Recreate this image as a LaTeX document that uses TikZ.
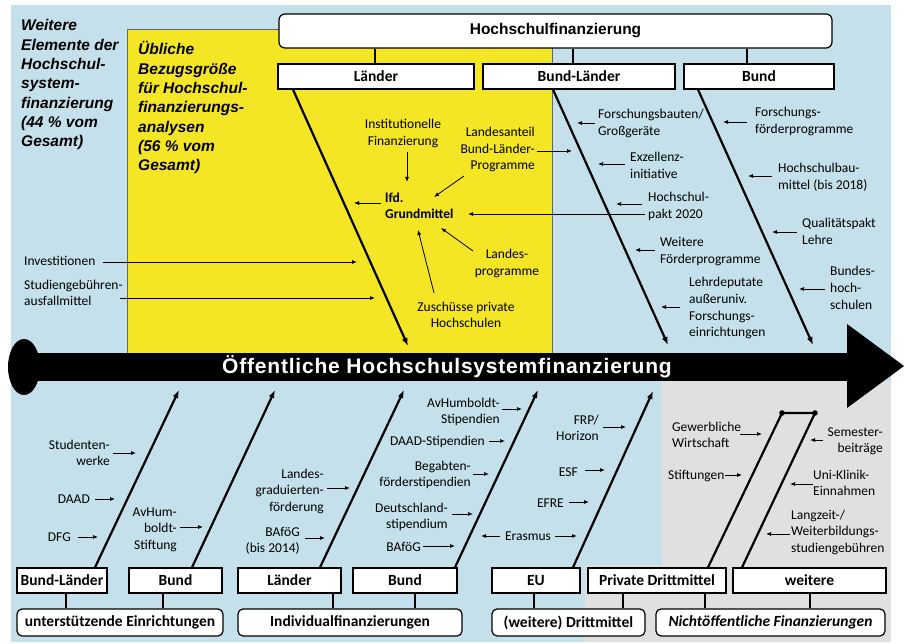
\documentclass[tikz,border=0pt]{standalone}
\usepackage{fontspec}
\setmainfont{Carlito}
\newfontfamily\arialf{Liberation Sans}
\newfontfamily\arialsp[LetterSpace=3.8]{Liberation Sans}
\usetikzlibrary{arrows.meta}
\definecolor{bgblue}{HTML}{C4E0EA}
\definecolor{ylw}{HTML}{F4E525}
\definecolor{gry}{HTML}{E0E0E0}
\begin{document}
\begin{tikzpicture}[x=1pt,y=-1pt,
  lbl/.style={font=\fontsize{13.5}{16.5}\selectfont, inner sep=0pt},
  sa/.style={-{Latex[length=5pt,width=4pt]}, line width=0.8pt},
  bone/.style={line width=2.2pt, -{Latex[length=8pt,width=6pt]}},
  pbone/.style={line width=2.2pt},
  conn/.style={line width=1.2pt},
  box/.style={draw, line width=1.2pt, fill=white, inner sep=0pt, minimum height=25pt, font=\fontsize{15.5}{18}\selectfont\bfseries},
  rbox/.style={box, rounded corners=5pt, minimum height=27pt},
  big/.style={font=\arialf\fontsize{15.5}{19.3}\selectfont\bfseries\itshape, inner sep=0pt, align=left, anchor=base west}
]
\useasboundingbox (0,0) rectangle (905,644);
% backgrounds
\fill[bgblue] (11,5) rectangle (891,642);
\fill[gry] (662,381) -- (891,381) -- (891,642) -- (585,642) -- (585,565) -- (662,565) -- cycle;
\filldraw[fill=ylw, draw=gray!80!black, line width=0.6pt] (127,29) rectangle (552,353);

% main arrow
\fill[black] (24,367) ellipse [x radius=16pt, y radius=28pt];
\fill[black] (24,353) rectangle (848,381);
\fill[black] (847,324) -- (904,366) -- (847,408) -- cycle;
\node[text=white, font=\arialsp\fontsize{21}{24}\selectfont\bfseries, anchor=base, inner sep=0pt] (title) at (447,373) {Öffentliche Hochschulsystemfinanzierung};

% side texts (anchor = baseline of last line)
\node[big] (weit) at (21,146.8) {Weitere\\Elemente der\\Hochschul-\\system-\\finanzierung\\(44 \% vom\\Gesamt)};
\node[big] (ubl) at (138,170.8) {Übliche\\Bezugsgröße\\für Hochschul-\\finanzierungs-\\analysen\\(56 \% vom\\Gesamt)};

% top boxes
\node[box, rounded corners=6pt, minimum width=553pt, minimum height=34pt, font=\arialf\fontsize{15.5}{18}\selectfont\bfseries] (HF) at (555.5,31) {Hochschulfinanzierung};
\node[box, minimum width=196pt] (L) at (376,76.5) {Länder};
\node[box, minimum width=192pt] (BL) at (579,76.5) {Bund-Länder};
\node[box, minimum width=150pt] (B) at (759,76.5) {Bund};
\draw[conn] (HF.south -| 375,0) -- (L.north -| 375,0);
\draw[conn] (HF.south -| 573,0) -- (BL.north -| 573,0);
\draw[conn] (HF.south -| 747,0) -- (B.north -| 747,0);

% top bones
\draw[bone] (L.south -| 293,0) -- (408,346);
\draw[bone] (BL.south -| 553,0) -- (668,345);
\draw[bone] (B.south -| 698,0) -- (813,345);

% yellow labels
\node[lbl, align=center, anchor=base] (inst) at (403,145.5) {Institutionelle\\Finanzierung};
\node[lbl, align=right, anchor=base east] (lanteil) at (535,170) {Landesanteil\\Bund-Länder-\\Programme};
\node[lbl, align=left, anchor=base west, font=\fontsize{13.5}{16}\selectfont\bfseries] (grund) at (385,219) {lfd.\\Grundmittel};
\node[lbl, align=center, anchor=base] (lprog) at (507,275.5) {Landes-\\programme};
\node[lbl, align=center, anchor=base] (zusch) at (466,327.5) {Zuschüsse private\\Hochschulen};
\node[lbl, anchor=base west] (inv) at (24,266) {Investitionen};
\node[lbl, align=left, anchor=base west] (stud) at (24,305.5) {Studiengebühren-\\ausfallmittel};

\draw[sa] (407,152) -- (407,182);
\draw[sa] (464,176) -- (434,197);
\draw[sa] (381,203) -- (354,203);
\draw[sa] (537,151) -- (572,151);
\draw[sa] (473,251) -- (441,228);
\draw[sa] (434,293) -- (418,230);
\draw[sa] (103,262) -- (357,262);
\draw[sa] (120,298) -- (375,298);
\draw[sa] (645,214) -- (468,214);

% right labels
\node[lbl, align=left, anchor=base west] (fb) at (598,135.5) {Forschungsbauten/\\Großgeräte};
\node[lbl, align=left, anchor=base west] (ex) at (630,178.5) {Exzellenz-\\initiative};
\node[lbl, align=left, anchor=base west] (hp) at (648,218.5) {Hochschul-\\pakt 2020};
\node[lbl, align=left, anchor=base west] (wf) at (660,263.5) {Weitere\\Förderprogramme};
\node[lbl, align=left, anchor=base west] (ld) at (689,336.5) {Lehrdeputate\\außeruniv.\\Forschungs-\\einrichtungen};
\node[lbl, align=left, anchor=base west] (ff) at (755,133.5) {Forschungs-\\förderprogramme};
\node[lbl, align=left, anchor=base west] (hb) at (778,189.5) {Hochschulbau-\\mittel (bis 2018)};
\node[lbl, align=left, anchor=base west] (qp) at (802,244.5) {Qualitätspakt\\Lehre};
\node[lbl, align=left, anchor=base west] (bh) at (830,309) {Bundes-\\hoch-\\schulen};

\draw[sa] (595,123) -- (577,123);
\draw[sa] (625,164) -- (598,164);
\draw[sa] (642,204) -- (616,204);
\draw[sa] (655,250) -- (635,250);
\draw[sa] (680,307) -- (661,307);
\draw[sa] (747,122) -- (723,122);
\draw[sa] (772,176) -- (748,176);
\draw[sa] (797,232) -- (772,232);
\draw[sa] (825,289) -- (799,289);

% bottom boxes
\node[box, minimum width=90pt] (BLb) at (62,580.5) {Bund-Länder};
\node[box, minimum width=93pt] (Bb1) at (175.5,580.5) {Bund};
\node[box, minimum width=103pt] (Lb) at (289.5,580.5) {Länder};
\node[box, minimum width=104pt] (Bb2) at (405,580.5) {Bund};
\node[box, minimum width=88pt] (EU) at (536,580.5) {EU};
\node[box, minimum width=138pt] (PD) at (657,580.5) {Private Drittmittel};
\node[box, minimum width=153pt] (W) at (809.5,580.5) {weitere};

\node[rbox, minimum width=206pt] (UE) at (120,622.5) {unterstützende Einrichtungen};
\node[rbox, minimum width=224pt] (IF) at (350,622.5) {Individualfinanzierungen};
\node[rbox, minimum width=153pt] (WD) at (568.5,622.5) {(weitere) Drittmittel};
\node[rbox, minimum width=229pt, font=\fontsize{15.5}{18}\selectfont\bfseries\itshape] (NF) at (770.5,622.5) {Nichtöffentliche Finanzierungen};

\draw[conn] (BLb.south -| 66,0) -- (UE.north -| 66,0);
\draw[conn] (Bb1.south -| 163,0) -- (UE.north -| 163,0);
\draw[conn] (Lb.south -| 333,0) -- (IF.north -| 333,0);
\draw[conn] (Bb2.south -| 415,0) -- (IF.north -| 415,0);
\draw[conn] (EU.south -| 534,0) -- (WD.north -| 534,0);
\draw[conn] (PD.south -| 623,0) -- (WD.north -| 623,0);
\draw[conn] (PD.south -| 705,0) -- (NF.north -| 705,0);
\draw[conn] (W.south -| 810,0) -- (NF.north -| 810,0);

% bottom bones
\draw[bone] (BLb.north -| 95,0) -- (179,390);
\draw[bone] (Bb1.north -| 192,0) -- (275,390);
\draw[bone] (Lb.north -| 320,0) -- (404,390);
\draw[bone] (Bb2.north -| 455,0) -- (538,390);
\draw[bone] (EU.north -| 573,0) -- (653,391);
\coordinate (d1) at (782,413);
\coordinate (d2) at (815,413);
\draw[pbone] (PD.north -| 708,0) -- (d1) -- (d2) -- (W.north -| 742,0);
\fill (d1) circle (2.8pt);
\fill (d2) circle (2.8pt);

% bottom labels
\node[lbl, align=right, anchor=base east] at (110,465.5) {Studenten-\\werke};
\node[lbl, anchor=base east] at (90,503) {DAAD};
\node[lbl, anchor=base east] at (71,541) {DFG};
\node[lbl, align=right, anchor=base east] at (177,549) {AvHum-\\boldt-\\Stiftung};
\node[lbl, align=right, anchor=base east] at (324,511) {Landes-\\graduierten-\\förderung};
\node[lbl, align=right, anchor=base east] at (300,552.5) {BAföG\\(bis 2014)};
\node[lbl, align=right, anchor=base east] at (500,423.5) {AvHumboldt-\\Stipendien};
\node[lbl, anchor=base east] at (485,445) {DAAD-Stipendien};
\node[lbl, align=right, anchor=base east] at (471,486.5) {Begabten-\\förderstipendien};
\node[lbl, align=right, anchor=base east] at (448,528.5) {Deutschland-\\stipendium};
\node[lbl, anchor=base east] at (421,551) {BAföG};
\node[lbl, align=right, anchor=base east] at (599,440.5) {FRP/\\Horizon};
\node[lbl, anchor=base east] at (578,476) {ESF};
\node[lbl, anchor=base east] at (564,507) {EFRE};
\node[lbl, anchor=base] at (528,540) {Erasmus};
\node[lbl, align=left, anchor=base west] at (672,447.5) {Gewerbliche\\Wirtschaft};
\node[lbl, anchor=base west] at (668,479) {Stiftungen};
\node[lbl, align=right, anchor=base east] at (883,452.5) {Semester-\\beiträge};
\node[lbl, align=left, anchor=base west] at (813,495.5) {Uni-Klinik-\\Einnahmen};
\node[lbl, align=left, anchor=base west] at (791,552) {Langzeit-/\\Weiterbildungs-\\studiengebühren};

\draw[sa] (113,453) -- (136,453);
\draw[sa] (95,499) -- (115,499);
\draw[sa] (78,537) -- (98,537);
\draw[sa] (180,527) -- (203,527);
\draw[sa] (327,488) -- (350,488);
\draw[sa] (305,538) -- (325,538);
\draw[sa] (502,409) -- (522,409);
\draw[sa] (489,441) -- (505,441);
\draw[sa] (473,474) -- (489,474);
\draw[sa] (452,514) -- (473,514);
\draw[sa] (423,546) -- (455,546);
\draw[sa] (603,427) -- (626,427);
\draw[sa] (585,470) -- (605,470);
\draw[sa] (569,502) -- (589,502);
\draw[sa] (500,536) -- (481,536);
\draw[sa] (555,536) -- (577,536);
\draw[sa] (740,434) -- (762,434);
\draw[sa] (725,475) -- (742,475);
\draw[sa] (823,440) -- (810,440);
\draw[sa] (813,484) -- (790,484);
\draw[sa] (790,534) -- (766,534);
\end{tikzpicture}
\end{document}
